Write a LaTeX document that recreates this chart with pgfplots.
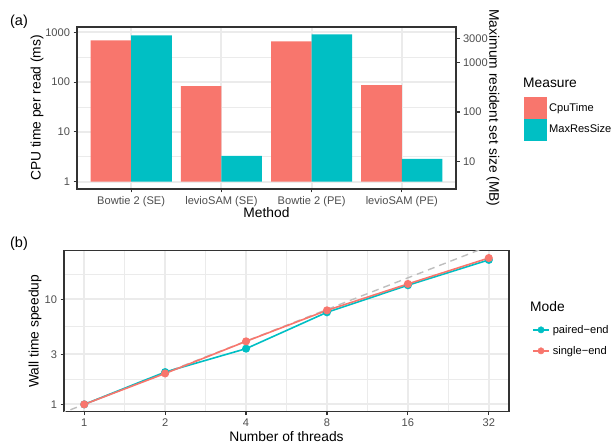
\documentclass[border=0pt]{standalone}
\usepackage{fontspec}
\setmainfont{Liberation Sans}
\usepackage{pgfplots}
\usepackage{pgfplotstable}
\pgfplotsset{compat=1.18}

\definecolor{cpu}{HTML}{F8766D}
\definecolor{mrs}{HTML}{00BFC4}
\definecolor{gridc}{HTML}{EBEBEB}
\definecolor{framec}{HTML}{333333}
\definecolor{tickc}{HTML}{4D4D4D}
\definecolor{refc}{HTML}{BEBEBE}

\newcommand\ttl{\fontsize{13.8}{16}\selectfont}
\newcommand\tkl{\fontsize{11.1}{13}\selectfont}

% bar heights: cpu in ms, mb in MB (plotted as mb/4 on the left scale)
\pgfplotstableread{
pos cpu mb
1 692 3480
2 83 13.2
3 661 3650
4 87 11.5
}\memtable

\pgfplotstableread{
threads single paired
1 1.00 1.00
2 1.97 2.03
4 3.98 3.39
8 7.85 7.52
16 14.0 13.6
32 24.7 23.7
}\speedtable

\pgfplotsset{
  gg/.style={
    scale only axis,
    anchor=south west,
    axis line style={framec, line width=1.4pt},
    grid=both,
    major grid style={gridc, line width=1.8pt},
    minor grid style={gridc, line width=0.9pt},
    tick align=outside,
    major tick length=3.5pt,
    minor tick length=0pt,
    tick style={framec, line width=1.2pt},
    tick pos=left,
    ticklabel style={font=\tkl, text=tickc},
    legend style={draw=none, fill=none, inner sep=0pt, row sep=0pt,
      font=\tkl, anchor=north west, nodes={inner xsep=3pt, inner ysep=0pt}},
    legend cell align=left,
  }
}

\begin{document}
\begin{tikzpicture}
\useasboundingbox (0,0) rectangle (614pt,444pt);

% (a) CPU time and memory
\begin{axis}[gg, at={(77pt,255pt)}, width=379pt, height=162pt,
  xmin=0.4, xmax=4.6, ymode=log, ymin=0.711, ymax=1282,
  xtick={1,2,3,4},
  xticklabels={Bowtie 2 (SE), levioSAM (SE), Bowtie 2 (PE), levioSAM (PE)},
  minor xtick={},
  ytick={1,10,100,1000}, yticklabels={1,10,100,1000},
  minor ytick={3.162,31.62,316.2},
  xlabel={Method}, ylabel={CPU time per read (ms)},
  every axis x label/.style={at={(axis description cs:0.5,-0.148)}, anchor=center, font=\ttl},
  every axis y label/.style={at={(axis description cs:-0.1055,0.5)}, rotate=90, anchor=center, font=\ttl},
  legend style={at={(axis description cs:1.1794,0.568)}}]
\addplot[ybar, bar width=0.45, bar shift=-0.225, fill=cpu, draw=none, forget plot]
  table[x=pos, y=cpu] {\memtable};
\addplot[ybar, bar width=0.45, bar shift=0.225, fill=mrs, draw=none, forget plot]
  table[x=pos, y expr=\thisrow{mb}/4] {\memtable};
\addlegendimage{legend image code/.code={\fill[cpu] (0pt,-10.5pt) rectangle (21.5pt,10.5pt);}}
\addlegendentry{CpuTime}
\addlegendimage{legend image code/.code={\fill[mrs] (0pt,-10.5pt) rectangle (21.5pt,10.5pt);}}
\addlegendentry{MaxResSize}
\end{axis}

% (a) secondary axis in MB
\begin{axis}[gg, at={(77pt,255pt)}, width=379pt, height=162pt, grid=none,
  xmin=0.4, xmax=4.6, ymode=log, ymin=2.844, ymax=5128,
  axis x line=none, axis y line*=right, tick align=outside,
  ytick pos=right, yticklabel pos=right,
  ytick={10,100,1000,3000}, yticklabels={10,100,1000,3000}, minor ytick={},
  ylabel={Maximum resident set size (MB)},
  every axis y label/.style={at={(axis description cs:1.0976,0.5)}, rotate=-90, anchor=center, font=\ttl}]
\end{axis}

% (b) speedup
\begin{axis}[gg, at={(64pt,32.3pt)}, width=445pt, height=161pt,
  xmode=log, ymode=log,
  xmin=0.8409, xmax=38.05, ymin=0.852, ymax=29.0,
  xtick={1,2,4,8,16,32}, xticklabels={1,2,4,8,16,32},
  minor xtick={1.414,2.828,5.657,11.31,22.63},
  ytick={1,3,10}, yticklabels={1,3,10},
  minor ytick={1.732,5.477,17.32},
  xlabel={Number of threads}, ylabel={Wall time speedup},
  every axis x label/.style={at={(axis description cs:0.5,-0.155)}, anchor=center, font=\ttl},
  every axis y label/.style={at={(axis description cs:-0.0652,0.5)}, rotate=90, anchor=center, font=\ttl},
  legend style={at={(axis description cs:1.0517,0.5748)}}]
\addplot[refc, line width=1.4pt, dash pattern=on 7pt off 5pt, forget plot]
  coordinates {(0.5,0.5) (64,64)};
\addplot[mrs, line width=1.6pt, mark=*, mark size=3.2pt, forget plot]
  table[x=threads, y=paired] {\speedtable};
\addplot[cpu, line width=1.6pt, mark=*, mark size=3.2pt, forget plot]
  table[x=threads, y=single] {\speedtable};
\addlegendimage{legend image code/.code={\path[draw=none, fill=none] (0pt,-10.5pt) rectangle (16pt,10.5pt);
  \draw[mrs, line width=1.6pt] (0pt,0pt) -- (16pt,0pt); \fill[mrs] (8pt,0pt) circle (3.2pt);}}
\addlegendentry{paired−end}
\addlegendimage{legend image code/.code={\path[draw=none, fill=none] (0pt,-10.5pt) rectangle (16pt,10.5pt);
  \draw[cpu, line width=1.6pt] (0pt,0pt) -- (16pt,0pt); \fill[cpu] (8pt,0pt) circle (3.2pt);}}
\addlegendentry{single−end}
\end{axis}

% panel tags and legend titles
\node[font=\fontsize{14.5}{17}\selectfont] at (19pt,422.3pt) {(a)};
\node[font=\fontsize{14.5}{17}\selectfont] at (19pt,200pt) {(b)};
\node[font=\ttl, anchor=west, inner sep=0pt] at (523pt,361pt) {Measure};
\node[font=\ttl, anchor=west, inner sep=0pt] at (530pt,137.3pt) {Mode};
\end{tikzpicture}
\end{document}
